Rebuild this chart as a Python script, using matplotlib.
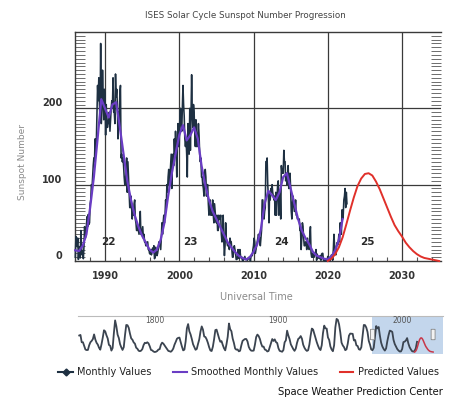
import matplotlib
matplotlib.use("Agg")
import matplotlib.pyplot as plt
from matplotlib.lines import Line2D
from matplotlib.patches import Rectangle, FancyBboxPatch
from matplotlib.transforms import ScaledTranslation, blended_transform_factory
import numpy as np

# ---------------- data ----------------
monthly_start = 1986.0
monthly_values = [
    5, 32, 30, 19, 30, 2, 19, 10, 4, 40, 20, 8,            # 1986
    13, 3, 19, 45, 30, 32, 47, 58, 45, 61, 48, 50,          # 1987
    75, 80, 100, 95, 110, 125, 135, 130, 160, 140, 155, 190,  # 1988
    230, 210, 240, 205, 185, 285, 180, 200, 250, 220, 185, 225,  # 1989
    220, 165, 205, 180, 175, 180, 190, 195, 170, 185, 200, 210,  # 1990
    200, 240, 195, 195, 180, 245, 215, 225, 205, 160, 195, 185,  # 1991
    220, 230, 135, 140, 130, 135, 125, 110, 100, 105, 115, 135,  # 1992
    90, 130, 110, 90, 70, 70, 85, 70, 55, 70, 60, 75,       # 1993
    80, 55, 50, 40, 40, 45, 40, 35, 45, 65, 35, 35,         # 1994
    40, 45, 30, 35, 25, 25, 20, 20, 25, 25, 15, 15,         # 1995
    10, 9, 15, 8, 12, 17, 12, 20, 3, 5, 18, 12,             # 1996
    7, 10, 15, 25, 25, 20, 15, 30, 50, 35, 50, 60,          # 1997
    50, 60, 80, 70, 100, 90, 110, 120, 100, 110, 125, 140,  # 1998
    95, 130, 140, 125, 160, 140, 170, 145, 110, 150, 180, 150,  # 1999
    150, 190, 200, 180, 170, 200, 230, 205, 190, 160, 150, 160,  # 2000
    140, 110, 180, 150, 140, 200, 145, 190, 244, 195, 175, 205,  # 2001
    195, 170, 150, 185, 150, 150, 165, 180, 165, 140, 130, 135,  # 2002
    110, 110, 100, 95, 85, 110, 120, 110, 85, 100, 100, 75,  # 2003
    60, 65, 80, 60, 60, 60, 80, 60, 50, 75, 65, 55,         # 2004
    50, 60, 40, 40, 60, 55, 55, 60, 35, 25, 30, 60,         # 2005
    25, 7, 20, 50, 30, 25, 20, 20, 20, 15, 30, 25,          # 2006
    25, 15, 5, 5, 15, 20, 15, 10, 2, 2, 3, 15,              # 2007
    5, 3, 15, 7, 4, 5, 1, 0, 2, 4, 6, 2,                    # 2008
    2, 2, 1, 2, 4, 5, 5, 0, 6, 7, 7, 15,                    # 2009
    20, 30, 25, 10, 15, 20, 25, 30, 35, 30, 30, 20,         # 2010
    30, 40, 80, 80, 60, 55, 65, 70, 130, 130, 135, 100,     # 2011
    85, 50, 90, 80, 95, 90, 100, 90, 85, 80, 85, 60,        # 2012
    90, 60, 80, 100, 105, 60, 85, 90, 55, 125, 115, 120,    # 2013
    115, 145, 130, 130, 105, 115, 100, 105, 125, 95, 100, 115,  # 2014
    95, 65, 55, 75, 85, 75, 65, 65, 80, 60, 60, 55,         # 2015
    55, 55, 55, 40, 40, 15, 30, 50, 45, 30, 20, 20,         # 2016
    25, 25, 15, 30, 20, 20, 15, 35, 45, 10, 5, 10,          # 2017
    5, 10, 5, 10, 10, 15, 1, 9, 4, 4, 6, 3,                 # 2018
    7, 1, 9, 10, 10, 1, 1, 0, 1, 0, 0, 1,                   # 2019
    6, 0, 2, 5, 0, 6, 8, 7, 1, 15, 35, 20,                  # 2020
    10, 8, 18, 24, 21, 25, 35, 25, 50, 37, 35, 67,          # 2021
    55, 60, 80, 85, 95, 70, 90, 75,                         # 2022
]

smoothed_years = [
    1986.0, 1986.5, 1987.0, 1987.5, 1988.0, 1988.5, 1989.0, 1989.5, 1990.0, 1990.5,
    1991.0, 1991.5, 1992.0, 1992.5, 1993.0, 1993.5, 1994.0, 1994.5, 1995.0, 1995.5,
    1996.0, 1996.5, 1997.0, 1997.5, 1998.0, 1998.5, 1999.0, 1999.5, 2000.0, 2000.5,
    2001.0, 2001.5, 2002.0, 2002.5, 2003.0, 2003.5, 2004.0, 2004.5, 2005.0, 2005.5,
    2006.0, 2006.5, 2007.0, 2007.5, 2008.0, 2008.5, 2009.0, 2009.5, 2010.0, 2010.5,
    2011.0, 2011.5, 2012.0, 2012.5, 2013.0, 2013.5, 2014.0, 2014.5, 2015.0, 2015.5,
    2016.0, 2016.5, 2017.0, 2017.5, 2018.0, 2018.5, 2019.0, 2019.5, 2020.0, 2020.5,
    2021.0, 2021.5, 2022.0,
]
smoothed_values = [
    14, 13, 20, 35, 70, 110, 160, 212, 200, 188,
    205, 208, 175, 140, 105, 80, 60, 45, 33, 24,
    15, 11, 15, 28, 50, 85, 115, 140, 165, 178,
    158, 165, 175, 160, 125, 100, 80, 65, 55, 45,
    35, 25, 18, 12, 7, 4, 2, 5, 12, 22,
    42, 75, 92, 86, 80, 90, 110, 115, 95, 75,
    55, 40, 30, 22, 12, 7, 5, 3, 2, 6,
    14, 28, 55,
]

predicted_years = [
    2020.0, 2020.5, 2021.0, 2021.5, 2022.0, 2022.5, 2023.0, 2023.5, 2024.0, 2024.5,
    2025.0, 2025.5, 2026.0, 2026.5, 2027.0, 2027.5, 2028.0, 2028.5, 2029.0, 2029.5,
    2030.0, 2030.5, 2031.0, 2031.5, 2032.0, 2032.5, 2033.0, 2033.5, 2034.0, 2034.5,
    2035.0,
]
predicted_values = [
    0, 3, 9, 18, 31, 48, 66, 83, 98, 108,
    114, 115, 112, 104, 94, 82, 70, 58, 47, 39,
    32, 24, 18, 13, 9, 6, 4, 3, 2, 1,
    0,
]

cycle_labels = ["22", "23", "24", "25"]
cycle_label_x = [1990.4, 2001.5, 2013.8, 2025.4]

# yearly sunspot numbers for the navigator (1749 - 2022)
nav_start = 1749
nav_values = [
    134.7, 139.0, 79.5, 79.7, 51.2, 20.3, 16.0, 17.0, 54.0, 79.3,
    90.0, 104.8, 143.2, 102.0, 75.2, 60.7, 34.8, 19.0, 63.0, 116.3,
    176.8, 168.0, 136.0, 110.8, 58.0, 51.0, 11.7, 33.0, 154.2, 257.3,
    209.8, 141.3, 113.5, 64.2, 38.0, 17.0, 40.2, 138.2, 220.0, 218.2,
    196.8, 149.8, 111.0, 100.0, 78.2, 68.3, 35.5, 26.7, 10.7, 6.8,
    11.3, 24.2, 56.7, 75.0, 71.8, 79.2, 70.3, 46.8, 16.8, 13.5,
    4.2, 0.0, 2.3, 8.3, 20.3, 23.2, 59.0, 76.3, 68.3, 52.9,
    38.5, 24.2, 9.2, 6.3, 2.2, 11.4, 28.2, 59.9, 83.0, 108.5,
    115.2, 117.4, 80.8, 44.3, 13.4, 19.5, 85.8, 192.7, 227.3, 168.7,
    143.0, 105.5, 63.3, 40.3, 18.1, 25.1, 65.8, 102.7, 166.3, 208.3,
    182.5, 126.3, 122.0, 102.7, 74.1, 39.0, 12.7, 8.2, 43.4, 104.4,
    178.3, 182.2, 146.6, 112.1, 83.5, 89.2, 57.8, 30.7, 13.9, 62.8,
    123.6, 232.0, 185.3, 169.2, 110.1, 74.5, 28.3, 18.9, 20.7, 5.7,
    10.0, 53.7, 90.5, 99.0, 106.1, 105.8, 86.3, 42.4, 21.8, 11.2,
    10.4, 11.8, 59.5, 121.7, 142.0, 130.0, 106.6, 69.4, 43.8, 44.4,
    20.2, 15.7, 4.6, 8.5, 40.8, 70.1, 105.5, 90.1, 102.8, 80.9,
    73.2, 30.9, 9.5, 6.0, 2.4, 16.1, 79.0, 95.0, 173.6, 134.6,
    105.7, 62.7, 43.5, 23.7, 9.7, 27.9, 74.0, 106.5, 114.7, 129.7,
    108.2, 59.4, 35.1, 18.6, 9.2, 14.6, 60.2, 132.8, 190.6, 182.6,
    148.0, 113.0, 79.2, 50.8, 27.1, 16.1, 55.3, 154.3, 214.7, 193.0,
    190.7, 118.9, 98.3, 45.0, 20.1, 6.6, 54.2, 200.7, 269.3, 261.7,
    225.1, 159.0, 76.4, 53.4, 39.9, 15.0, 22.0, 66.8, 132.9, 150.0,
    149.4, 148.0, 94.4, 97.6, 54.1, 49.2, 22.5, 18.4, 39.3, 131.0,
    220.1, 218.9, 198.9, 162.4, 91.0, 60.5, 20.6, 14.8, 33.9, 123.0,
    211.1, 191.8, 203.3, 133.0, 76.1, 44.9, 25.1, 11.6, 28.9, 88.3,
    136.3, 173.9, 170.4, 163.6, 99.3, 65.3, 45.8, 24.7, 12.6, 4.2,
    4.8, 24.9, 80.8, 84.5, 94.0, 113.3, 69.8, 39.8, 21.7, 7.0,
    3.6, 8.8, 29.6, 83.2,
]
nav_labels = ["1800", "1900", "2000"]
nav_label_years = [1800, 1900, 2000]

main_ticks = [1990, 2000, 2010, 2020, 2030]
y_ticks = [0, 100, 200]

# ---------------- styling ----------------
W, H = 454, 398
C_MONTHLY = "#1e3042"
C_SMOOTH = "#6a3dc4"
C_PRED = "#e0302a"
C_GRID = "#3a3a3a"
TXT = "#2a2a2a"

fig = plt.figure(figsize=(W / 100, H / 100), dpi=100)
fig.patch.set_facecolor("white")

def fx(px):
    return px / W

def fy(py):
    return 1 - py / H

# main axes
ax = fig.add_axes([fx(75), fy(261), fx(441) - fx(75), fy(32) - fy(261)])
ax.set_xlim(1985.96, 2035.25)
ax.set_ylim(0, 300)

m_x = monthly_start + np.arange(len(monthly_values)) / 12.0
ax.plot(m_x, monthly_values, color=C_MONTHLY, lw=1.15, zorder=3, clip_on=False)
ax.plot(smoothed_years, smoothed_values, color=C_SMOOTH, lw=1.6, zorder=4,
        clip_on=False)
ax.plot(predicted_years, predicted_values, color=C_PRED, lw=1.4, zorder=4,
        clip_on=False)

for x in main_ticks:
    ax.axvline(x, color=C_GRID, lw=0.9, zorder=1)
for y in y_ticks[1:]:
    ax.axhline(y, color=C_GRID, lw=0.9, zorder=1)

for lab, x in zip(cycle_labels, cycle_label_x):
    ax.text(x, 25, lab, ha="center", va="center", fontsize=7.5,
            fontweight="bold", color=TXT, zorder=5)

ax.set_xticks(main_ticks)
ax.set_xticks(np.arange(1988, 2036, 2), minor=True)
ax.set_yticks(y_ticks)
ax.set_yticks(np.arange(0, 301, 5), minor=True)
ax.set_xticklabels([str(t) for t in main_ticks], fontsize=7, fontweight="bold",
                   color="#333")
ax.set_yticklabels([])
ylab_tr = blended_transform_factory(ax.transAxes, ax.transData) + \
    ScaledTranslation(0, 5 / 100, fig.dpi_scale_trans)
for t in y_ticks:
    ax.text(-0.034, t, str(t), transform=ylab_tr, ha="right", va="center",
            fontsize=7, fontweight="bold", color="#333")
ax.tick_params(axis="x", which="major", length=0, pad=7)
ax.tick_params(axis="x", which="minor", direction="in", length=3, width=0.8,
               color="#555")
ax.tick_params(axis="y", which="major", length=0)
ax.tick_params(axis="y", which="minor", direction="in", length=7, width=0.6,
               color="#555", left=True, right=True)
for s in ["left", "top", "bottom"]:
    ax.spines[s].set_color(C_GRID)
    ax.spines[s].set_linewidth(1.0)
ax.spines["right"].set_visible(False)

fig.text(fx(245), fy(15), "ISES Solar Cycle Sunspot Number Progression",
         ha="center", va="center", fontsize=6.3, color="#444")
fig.text(fx(23), fy(162), "Sunspot Number", rotation=90, ha="center",
         va="center", fontsize=6.5, color="#8a8a8a")
fig.text(fx(256), fy(297), "Universal Time", ha="center", va="center",
         fontsize=7, color="#8a8a8a")

# navigator
nav = fig.add_axes([fx(78), fy(354), fx(443) - fx(78), fy(316) - fy(354)])
nav.set_xlim(1748, 2043)
nav.set_ylim(-16, 293)
n_x = nav_start + np.arange(len(nav_values))
nav.add_patch(Rectangle((1986, -16), 2043 - 1986, 309, facecolor="#c3d6ec",
                        edgecolor="none", zorder=0))
nav.plot(n_x, nav_values, color="#3b4450", lw=1.3, zorder=2)
nav.plot(predicted_years, predicted_values, color="#c8384a", lw=1.1, zorder=3)
for lab, x in zip(nav_labels, nav_label_years):
    nav.text(x + 2, 255, lab, ha="left", va="center", fontsize=5.5,
             color="#555", zorder=4)
for hx in [1986, 2035]:
    nav.add_patch(FancyBboxPatch((hx - 1.6, 100), 3.2, 85,
                                 boxstyle="round,pad=0,rounding_size=1",
                                 facecolor="#f2f2f2", edgecolor="#888",
                                 lw=0.6, zorder=5))
nav.set_xticks([])
nav.set_yticks([])
for s in ["left", "right", "bottom"]:
    nav.spines[s].set_visible(False)
nav.spines["top"].set_color("#bbbbbb")
nav.spines["top"].set_linewidth(0.8)

# legend
ly = fy(372)
fig.add_artist(Line2D([fx(58), fx(73)], [ly, ly], color=C_MONTHLY, lw=1.5,
                      transform=fig.transFigure))
fig.add_artist(Line2D([fx(65.5)], [ly], color=C_MONTHLY, marker="D", ms=3.5,
                      transform=fig.transFigure))
fig.text(fx(77), ly, "Monthly Values", ha="left", va="center", fontsize=7,
         color="#222")
fig.add_artist(Line2D([fx(173), fx(187)], [ly, ly], color=C_SMOOTH, lw=1.5,
                      transform=fig.transFigure))
fig.text(fx(191), ly, "Smoothed Monthly Values", ha="left", va="center",
         fontsize=7, color="#222")
fig.add_artist(Line2D([fx(340), fx(353)], [ly, ly], color=C_PRED, lw=1.5,
                      transform=fig.transFigure))
fig.text(fx(358), ly, "Predicted Values", ha="left", va="center", fontsize=7,
         color="#222")

fig.text(fx(443), fy(392), "Space Weather Prediction Center", ha="right",
         va="center", fontsize=7.2, color="#111")

fig.savefig("out.png", dpi=100, facecolor="white")
